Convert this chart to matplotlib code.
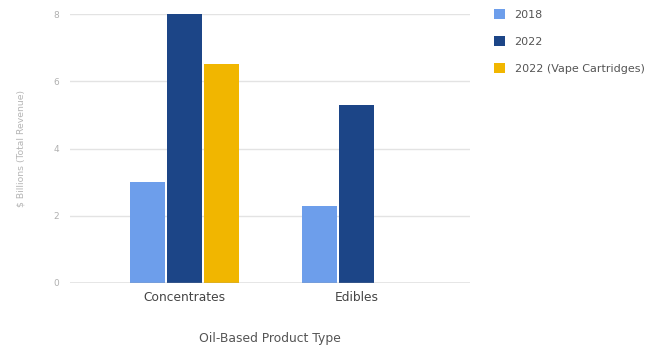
import numpy as np
import matplotlib
matplotlib.use('Agg')
import matplotlib.pyplot as plt
from matplotlib.patches import Patch

categories = ['Concentrates', 'Edibles']
rev_2018 = [3.0, 2.3]
rev_2022 = [8.0, 5.3]
rev_2022_vape = [6.5, np.nan]
series_names = ['2018', '2022', '2022 (Vape Cartridges)']
colors = ['#6d9eeb', '#1c4587', '#f1b600']

fig = plt.figure(figsize=(6.62, 3.48), dpi=100)
ax = fig.add_axes([70 / 662, 1 - 283 / 348, 400 / 662, 269 / 348])

x = np.arange(len(categories))
w = 0.215
for i, (vals, c) in enumerate(zip([rev_2018, rev_2022, rev_2022_vape], colors)):
    ax.bar(x - w + i * w, vals, width=w - 0.014, color=c, zorder=3)

ax.set_xlim(-0.665, 1.66)
ax.set_ylim(0, 8)
ax.set_yticks([0, 2, 4, 6, 8])
ax.grid(axis='y', color='#e3e3e3', linewidth=1, zorder=0)
ax.axhline(0, color='#9a9a9a', linewidth=1, zorder=4)
for s in ax.spines.values():
    s.set_visible(False)
ax.tick_params(axis='both', length=0)
ax.tick_params(axis='y', labelsize=6.5, labelcolor='#b0b0b0', pad=8)
ax.set_xticks(x)
ax.set_xticklabels(categories, fontsize=8.8, color='#444444')
ax.tick_params(axis='x', pad=6)
ax.set_xlabel('Oil-Based Product Type', fontsize=8.9, color='#555555', labelpad=20)
ax.set_ylabel('$ Billions (Total Revenue)', fontsize=6.7, color='#b5b5b5', labelpad=20)

handles = [Patch(facecolor=c, edgecolor='none') for c in colors]
fig.legend(handles, series_names, loc='upper left', bbox_to_anchor=(484 / 662, 1 + 1 / 348),
           frameon=False, fontsize=8.0, labelcolor='#555555', handlelength=1.0,
           handleheight=1.0, labelspacing=1.45, handletextpad=0.85)

fig.savefig('out.png', dpi=100)
